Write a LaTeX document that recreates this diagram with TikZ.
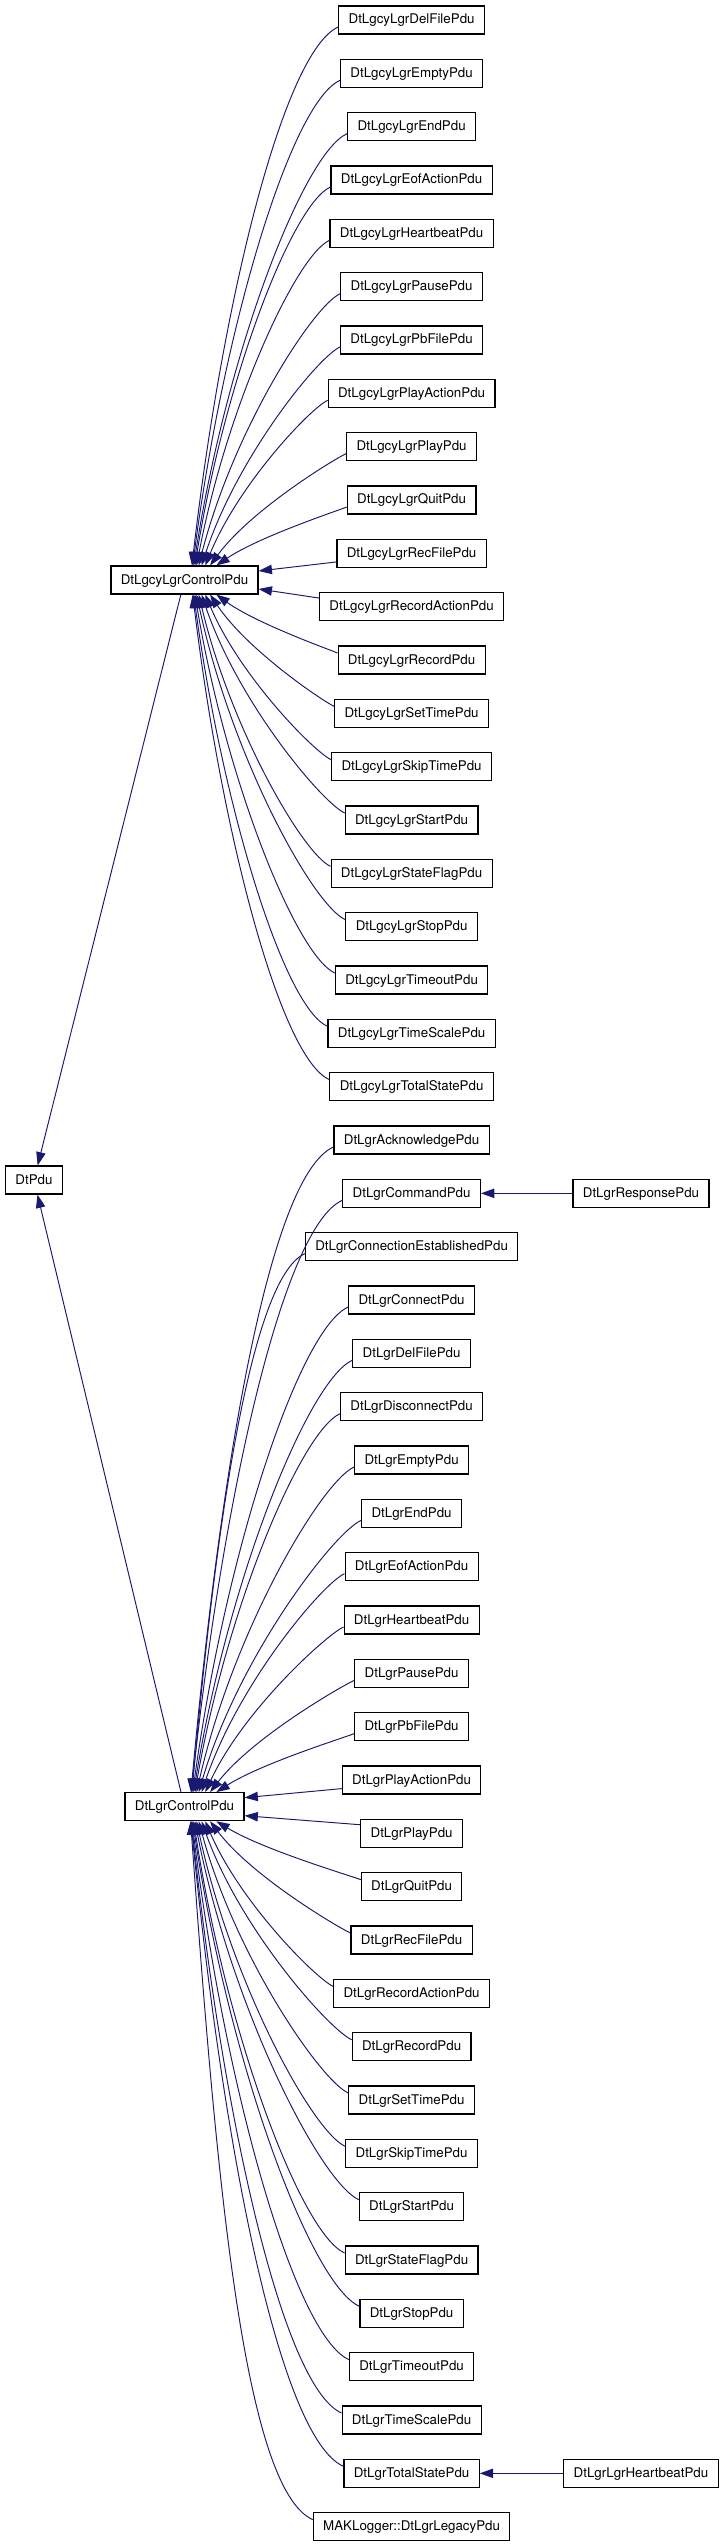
\documentclass[tikz,border=0pt]{standalone}
\usepackage{fontspec}
\setmainfont{TeX Gyre Heros}
\usetikzlibrary{arrows.meta,calc}
\definecolor{mblue}{RGB}{25,25,112}
\newcommand\cedge[3]{%
  \pgfmathsetmacro\yc{20+53.333*#3}%
  \pgfmathsetmacro\dyc{\yc-#2}%
  \pgfmathsetmacro\D{abs(\dyc)}%
  \pgfmathsetmacro\sg{\dyc<0 ? -1 : 1}%
  \pgfmathsetmacro\nsg{\dyc<0 ? 1 : -1}%
  \ifdim\D pt<40pt
    \draw[arr] ($(#1.east)+(0,{\sg*9})$) -- ($(c#3.west)+(0,{\nsg*8.6})$);
  \else
    \pgfmathsetmacro\aa{5+40*exp(-\D/200)}%
    \pgfmathsetmacro\kx{0.2+0.2*exp(-\D/200)}%
    \ifdim\dyc pt<0pt \def\anc{north}\else\def\anc{south}\fi
    \draw[arr] let \p1=($(#1.\anc)+(\aa,0)$), \p2=($(c#3.west)+(0,{\nsg*7})$),
      \n1={\x2-\x1}, \n2={\y2-\y1},
      \p3=({\x1+\kx*\n1},{\y1+0.5*\n2}),
      \p4=({\x2-0.1*abs(\n2)},{\y2-0.045*\n2}) in
      (\p1) .. controls (\p3) and (\p4) .. (\p2);
  \fi}
\begin{document}
\begin{tikzpicture}[x=0.75pt,y=-0.75pt,
  cls/.style={draw=black, line width=0.85pt, fill=white, minimum height=21pt,
    inner xsep=7.4pt, inner ysep=0pt, text height=7.5pt, text depth=1.5pt,
    font=\fontsize{10pt}{12pt}\selectfont},
  arr/.style={draw=mblue, line width=0.72pt, arrows={Triangle[length=10pt,width=7pt]-}}]
\useasboundingbox (0,0) rectangle (723,2547);
\node[cls] (pdu) at (34,1180) {DtPdu};
\node[cls] (lgcy) at (184.5,580) {DtLgcyLgrControlPdu};
\node[cls] (lgr) at (184.5,1806.67) {DtLgrControlPdu};
\foreach \r/\t in {0/DtLgcyLgrDelFilePdu,1/DtLgcyLgrEmptyPdu,2/DtLgcyLgrEndPdu,
  3/DtLgcyLgrEofActionPdu,4/DtLgcyLgrHeartbeatPdu,5/DtLgcyLgrPausePdu,
  6/DtLgcyLgrPbFilePdu,7/DtLgcyLgrPlayActionPdu,8/DtLgcyLgrPlayPdu,
  9/DtLgcyLgrQuitPdu,10/DtLgcyLgrRecFilePdu,11/DtLgcyLgrRecordActionPdu,
  12/DtLgcyLgrRecordPdu,13/DtLgcyLgrSetTimePdu,14/DtLgcyLgrSkipTimePdu,
  15/DtLgcyLgrStartPdu,16/DtLgcyLgrStateFlagPdu,17/DtLgcyLgrStopPdu,
  18/DtLgcyLgrTimeoutPdu,19/DtLgcyLgrTimeScalePdu,20/DtLgcyLgrTotalStatePdu,
  21/DtLgrAcknowledgePdu,22/DtLgrCommandPdu,23/DtLgrConnectionEstablishedPdu,
  24/DtLgrConnectPdu,25/DtLgrDelFilePdu,26/DtLgrDisconnectPdu,
  27/DtLgrEmptyPdu,28/DtLgrEndPdu,29/DtLgrEofActionPdu,30/DtLgrHeartbeatPdu,
  31/DtLgrPausePdu,32/DtLgrPbFilePdu,33/DtLgrPlayActionPdu,34/DtLgrPlayPdu,
  35/DtLgrQuitPdu,36/DtLgrRecFilePdu,37/DtLgrRecordActionPdu,
  38/DtLgrRecordPdu,39/DtLgrSetTimePdu,40/DtLgrSkipTimePdu,
  41/DtLgrStartPdu,42/DtLgrStateFlagPdu,43/DtLgrStopPdu,
  44/DtLgrTimeoutPdu,45/DtLgrTimeScalePdu,46/DtLgrTotalStatePdu,
  47/MAKLogger::DtLgrLegacyPdu}
  {\node[cls] (c\r) at (411.6,{20+53.333*\r}) {\t};}
\node[cls] (resp) at (641,{20+53.333*22}) {DtLgrResponsePdu};
\node[cls] (lhb) at (641,{20+53.333*46}) {DtLgrLgrHeartbeatPdu};
\draw[arr] (pdu) -- (lgcy);
\draw[arr] (pdu) -- (lgr);
\foreach \r in {0,...,20} {\cedge{lgcy}{580}{\r}}
\foreach \r in {21,...,47} {\cedge{lgr}{1806.67}{\r}}
\draw[arr] (c22) -- (resp);
\draw[arr] (c46) -- (lhb);
\end{tikzpicture}
\end{document}
